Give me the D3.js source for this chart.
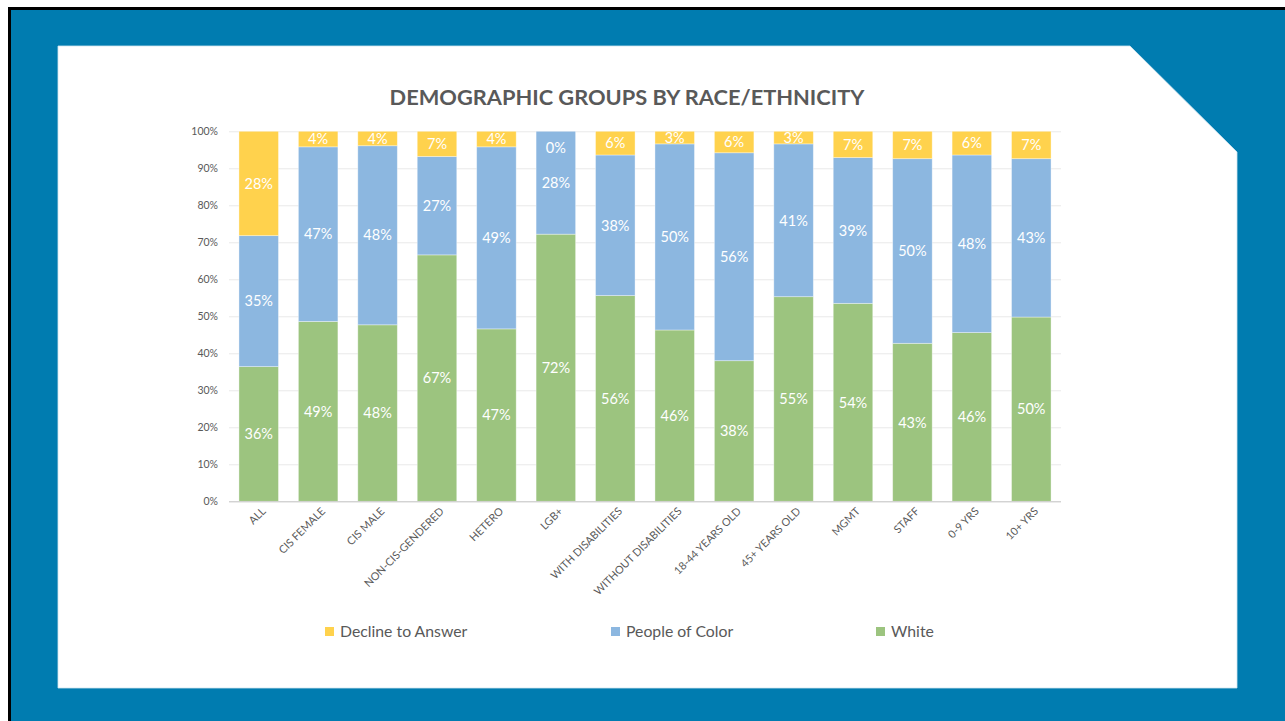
<!DOCTYPE html>
<html>
<head>
<meta charset="utf-8">
<script src="https://cdn.jsdelivr.net/npm/d3@7"></script>
<style>
  body { margin: 0; background: #ffffff; }
  svg { display: block; }
</style>
</head>
<body>
<svg id="chart" width="1285" height="721"></svg>
<script>
// Survey groups and their racial/ethnic split, in percent of each group
const categories = ["ALL", "CIS FEMALE", "CIS MALE", "NON-CIS-GENDERED", "HETERO", "LGB+",
  "WITH DISABILITIES", "WITHOUT DISABILITIES", "18-44 YEARS OLD", "45+ YEARS OLD",
  "MGMT", "STAFF", "0-9 YRS", "10+ YRS"];
const white           = [36.4, 48.6, 47.7, 66.6, 46.6, 72.2, 55.6, 46.3, 38.0, 55.3, 53.5, 42.7, 45.6, 49.8];
const peopleOfColor   = [35.4, 47.2, 48.4, 26.6, 49.2, 27.8, 38.0, 50.3, 56.2, 41.3, 39.4, 49.9, 48.0, 42.8];
const declineToAnswer = [28.2,  4.2,  3.9,  6.8,  4.2,  0.0,  6.4,  3.4,  5.8,  3.4,  7.1,  7.4,  6.4,  7.4];
const seriesNames = ["White", "People of Color", "Decline to Answer"];
const legendOrder = ["Decline to Answer", "People of Color", "White"];
const yTicks = [0, 10, 20, 30, 40, 50, 60, 70, 80, 90, 100];
const titleText = "DEMOGRAPHIC GROUPS BY RACE/ETHNICITY";

const colors = {
  "White": "#9cc47f",
  "People of Color": "#8cb7e0",
  "Decline to Answer": "#ffd24d"
};
const textGray = "#595959";
const font = "Lato, 'Open Sans', 'DejaVu Sans', sans-serif";

const svg = d3.select("#chart");

// Slide background: blue frame with a black edge and a clipped white card
svg.append("rect").attr("x", 0).attr("y", 0).attr("width", 1285).attr("height", 721).attr("fill", "#ffffff");
svg.append("rect").attr("x", 9.5).attr("y", 8.5).attr("width", 1285).attr("height", 721)
  .attr("fill", "#007cb0").attr("stroke", "#000000").attr("stroke-width", 3);
svg.append("path")
  .attr("d", "M58,46 L1130,46 L1237,152 L1237,688 L58,688 Z")
  .attr("fill", "#ffffff").attr("stroke", "#cfe5ef").attr("stroke-width", 0.8);

// Title
svg.append("text")
  .attr("x", 627).attr("y", 105)
  .attr("text-anchor", "middle")
  .attr("font-family", font).attr("font-weight", 700).attr("font-size", 21.8)
  .attr("fill", textGray)
  .text(titleText);

// Table rows for the stack layout
const rows = categories.map((c, i) => ({
  category: c,
  "White": white[i],
  "People of Color": peopleOfColor[i],
  "Decline to Answer": declineToAnswer[i]
}));
const stacked = d3.stack().keys(seriesNames)(rows);

const plotLeft = 229, plotRight = 1061;
const x = d3.scaleBand().domain(categories).range([plotLeft, plotRight])
  .paddingInner(0.335).paddingOuter(0.1675);
const y = d3.scaleLinear().domain([0, 100]).range([501.3, 131.3]);

// Gridlines and y tick labels
const yAxis = svg.append("g")
  .attr("transform", `translate(${plotLeft},0)`)
  .call(d3.axisLeft(y).tickValues(yTicks).tickFormat(d => d + "%")
    .tickSize(-(plotRight - plotLeft)).tickPadding(11));
yAxis.select(".domain").remove();
yAxis.selectAll(".tick line").attr("stroke", "#e9e9e9").attr("stroke-width", 1);
yAxis.selectAll(".tick text")
  .attr("font-family", font).attr("font-size", 10.5).attr("fill", textGray);

// Stacked bars
const layers = svg.append("g").selectAll("g")
  .data(stacked).join("g")
  .attr("fill", d => colors[d.key]);
layers.selectAll("rect")
  .data(d => d)
  .join("rect")
  .attr("x", d => x(d.data.category))
  .attr("width", x.bandwidth())
  .attr("y", d => y(d[1]))
  .attr("height", d => y(d[0]) - y(d[1]))
  .attr("stroke", "#ffffff").attr("stroke-opacity", 0.45).attr("stroke-width", 0.8);

// Value labels centred in each segment
const labelGroups = svg.append("g").selectAll("g")
  .data(stacked).join("g");
labelGroups.selectAll("text")
  .data(d => d.map(v => ({ v, key: d.key })))
  .join("text")
  .attr("x", d => x(d.v.data.category) + x.bandwidth() / 2)
  .attr("y", d => {
    const h = y(d.v[0]) - y(d.v[1]);
    return h < 2 ? y(d.v[1]) + 16 : (y(d.v[0]) + y(d.v[1])) / 2;
  })
  .attr("dy", "0.36em")
  .attr("text-anchor", "middle")
  .attr("font-family", font).attr("font-size", 14.5)
  .attr("fill", "#ffffff")
  .text(d => Math.round(d.v.data[d.key]) + "%");

// Category axis
svg.append("line")
  .attr("x1", plotLeft).attr("x2", plotRight)
  .attr("y1", y(0) + 0.5).attr("y2", y(0) + 0.5)
  .attr("stroke", "#c8c8c8").attr("stroke-width", 1);
const xAxis = svg.append("g")
  .attr("transform", `translate(0,${y(0)})`)
  .call(d3.axisBottom(x).tickSize(0));
xAxis.select(".domain").remove();
xAxis.selectAll(".tick text")
  .attr("font-family", font).attr("font-size", 10.8).attr("fill", textGray)
  .attr("text-anchor", "end")
  .attr("transform", "translate(5,8) rotate(-45)")
  .attr("x", 0).attr("y", 0).attr("dy", "0.35em");

// Legend
const legendX = { "Decline to Answer": 325, "People of Color": 611, "White": 876 };
const legend = svg.append("g").selectAll("g")
  .data(legendOrder).join("g")
  .attr("transform", d => `translate(${legendX[d]},627)`);
legend.append("rect")
  .attr("width", 9).attr("height", 9)
  .attr("fill", d => colors[d]);
legend.append("text")
  .attr("x", 15).attr("y", 4.5).attr("dy", "0.36em")
  .attr("font-family", font).attr("font-size", 15.8).attr("fill", textGray)
  .text(d => d);
</script>
</body>
</html>
